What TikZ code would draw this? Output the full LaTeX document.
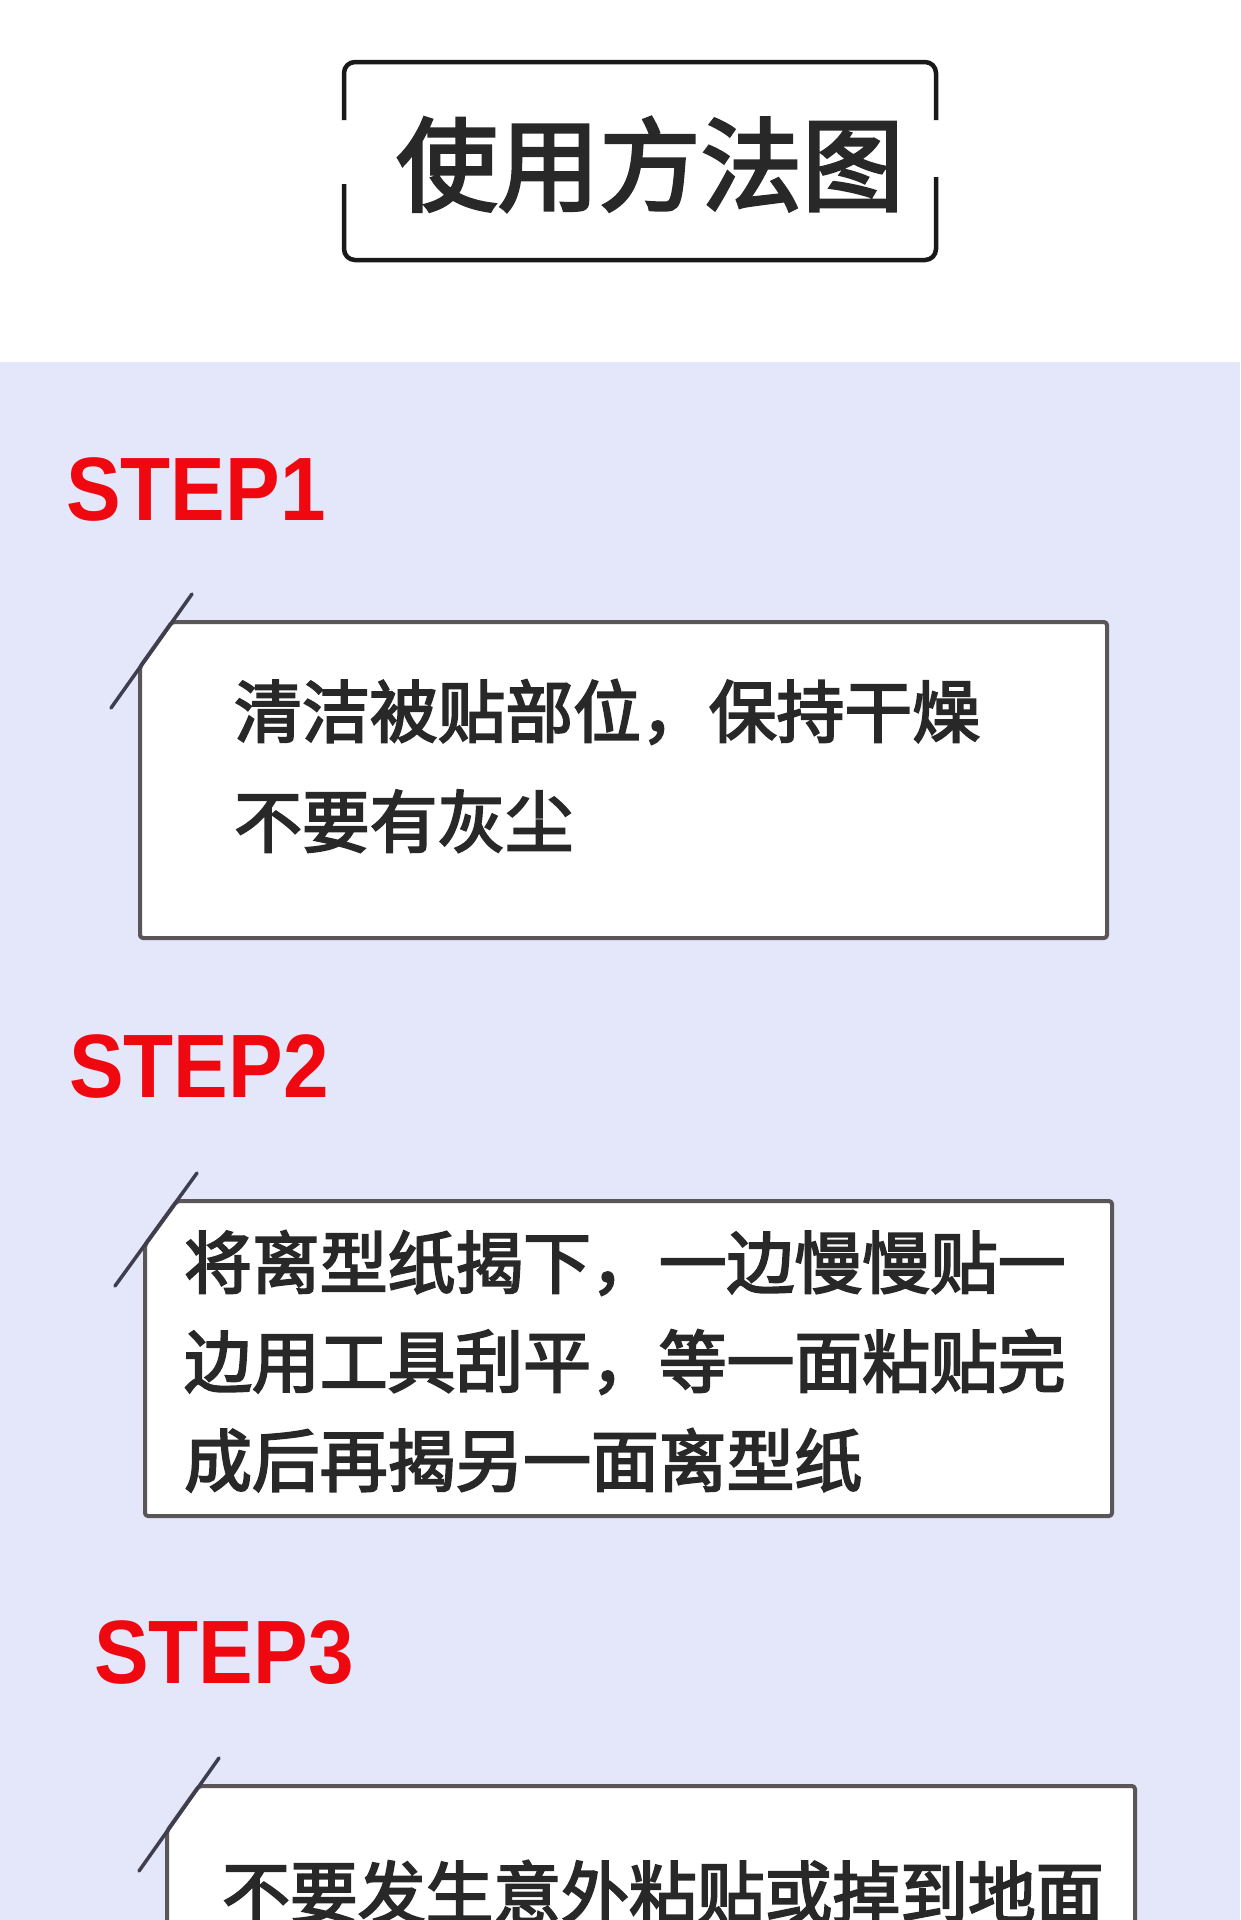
\documentclass[tikz,border=0pt]{standalone}
\usepackage{fontspec}
\newfontfamily\cjk{Noto Sans CJK SC}[FakeBold=3]
\newfontfamily\stepfont{Liberation Sans}
\definecolor{lav}{RGB}{228,230,250}
\definecolor{boxgray}{RGB}{90,86,88}
\definecolor{slashgray}{RGB}{62,62,78}
\definecolor{txt}{RGB}{40,40,40}
\definecolor{stepred}{RGB}{240,8,16}
\definecolor{titleline}{RGB}{25,25,25}
\newcommand{\steptxt}[1]{\scalebox{0.91}[1]{#1}}
\tikzset{
  stepbox/.style={draw=boxgray,line width=4pt,fill=white,rounded corners=3pt,line join=round},
  slash/.style={draw=slashgray,line width=3.5pt,line cap=round},
  steplabel/.style={anchor=base west,inner sep=0pt,text=stepred,font=\stepfont\bfseries\fontsize{90}{90}\selectfont},
  bodytext/.style={anchor=base west,inner sep=0pt,text=txt,font=\cjk\fontsize{67.8}{67.8}\selectfont},
}
\begin{document}
\begin{tikzpicture}[x=1pt,y=-1pt]
\useasboundingbox (0,0) rectangle (1240,1920);
\fill[white] (0,0) rectangle (1240,362);
\fill[lav] (0,362) rectangle (1240,1920);
% title frame
\draw[titleline,line width=4.5pt,rounded corners=11pt]
  (344,184) -- (344,260) -- (936,260) -- (936,177);
\draw[titleline,line width=4.5pt,rounded corners=11pt]
  (936,120) -- (936,62) -- (344,62) -- (344,120);
\node[anchor=base west,inner sep=0pt,text=txt,font=\cjk\fontsize{101.5}{101.5}\selectfont] (title) at (396,203) {使用方法图};
% step 1
\node[steplabel] (s1) at (66,520) {\steptxt{STEP1}};
\draw[stepbox] (140,667) -- (140,938) -- (1107,938) -- (1107,622) -- (172,622) -- cycle;
\coordinate (a1) at (111,708);
\coordinate (b1) at (192,594);
\draw[slash] (a1) -- (b1);
\node[bodytext] (t11) at (234,737) {清洁被贴部位，保持干燥};
\node[bodytext] (t12) at (234,847) {不要有灰尘};
% step 2
\node[steplabel] (s2) at (69,1097) {\steptxt{STEP2}};
\draw[stepbox] (145,1245) -- (145,1516) -- (1112,1516) -- (1112,1201) -- (177,1201) -- cycle;
\coordinate (a2) at (115,1286);
\coordinate (b2) at (197,1173);
\draw[slash] (a2) -- (b2);
\node[bodytext] (t21) at (184,1288) {将离型纸揭下，一边慢慢贴一};
\node[bodytext] (t22) at (184,1387) {边用工具刮平，等一面粘贴完};
\node[bodytext] (t23) at (184,1486) {成后再揭另一面离型纸};
% step 3
\node[steplabel] (s3) at (94,1683) {\steptxt{STEP3}};
\draw[stepbox] (167,1831) -- (167,1960) -- (1135,1960) -- (1135,1786) -- (199,1786) -- cycle;
\coordinate (a3) at (139,1871);
\coordinate (b3) at (219,1758);
\draw[slash] (a3) -- (b3);
\node[bodytext] (t31) at (222,1918) {不要发生意外粘贴或掉到地面};
\end{tikzpicture}
\end{document}
